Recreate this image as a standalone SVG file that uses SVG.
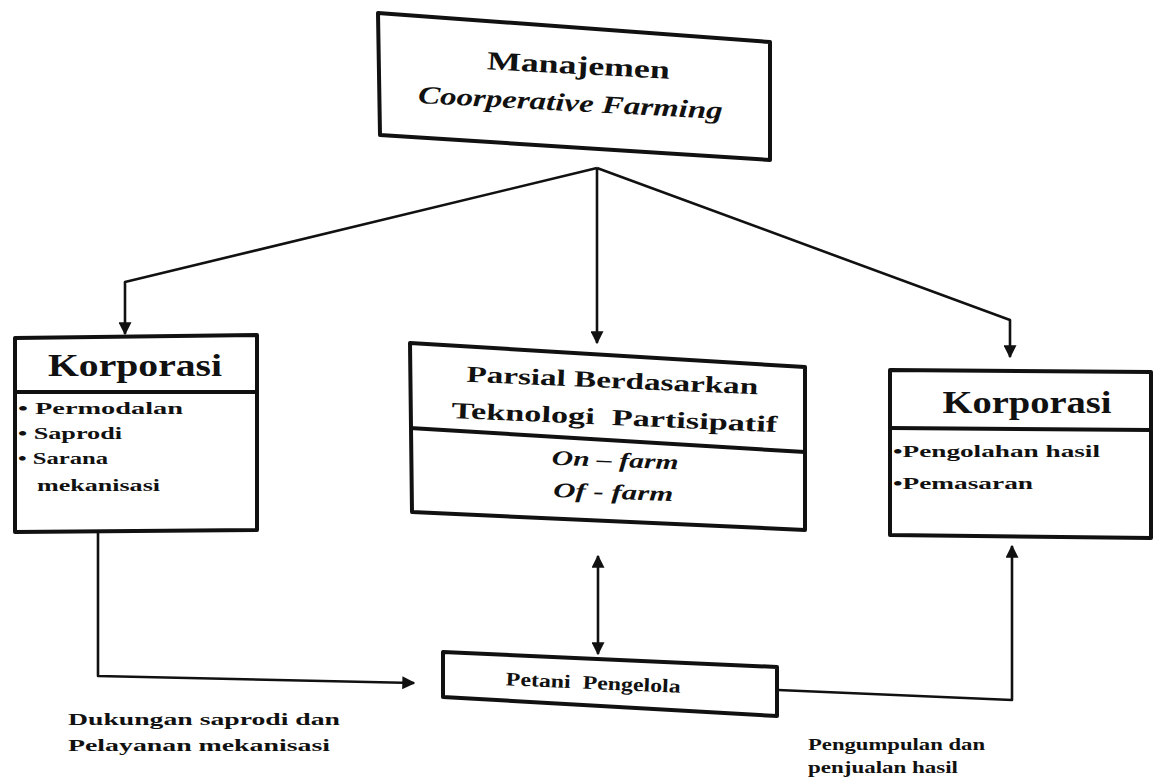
<svg xmlns="http://www.w3.org/2000/svg" width="1154" height="780" viewBox="0 0 1154 780">
<defs>
<marker id="ah" viewBox="0 0 10 10" refX="9" refY="5" markerWidth="5" markerHeight="5" orient="auto-start-reverse" markerUnits="strokeWidth">
<path d="M0,0 L10,5 L0,10 z" fill="#111"/>
</marker>
<style>
.box{fill:#fff;stroke:#111;stroke-width:4;stroke-linejoin:round}
.div{stroke:#111;stroke-width:4;fill:none}
.con{stroke:#111;stroke-width:2.6;fill:none;stroke-linejoin:round}
.t{font-family:"Liberation Serif",serif;font-weight:bold;fill:#111;white-space:pre}
.ti{font-family:"Liberation Serif",serif;font-weight:bold;font-style:italic;fill:#111}
.s{font-family:"Liberation Serif",serif;font-weight:bold;fill:#111;font-size:17px}
</style>
</defs>
<rect width="1154" height="780" fill="#fff"/>

<g id="connectors">
<path class="con" d="M597,168 L125,282 L125,334" marker-end="url(#ah)"/>
<path class="con" d="M597,168 L597,343" marker-end="url(#ah)"/>
<path class="con" d="M597,168 L1010,320 L1010,357" marker-end="url(#ah)"/>
<path class="con" d="M598,654 L598,556" marker-start="url(#ah)" marker-end="url(#ah)"/>
<path class="con" d="M98,533 L98,676 L414,683" marker-end="url(#ah)"/>
<path class="con" d="M778,690 L1012,700 L1012,546" marker-end="url(#ah)"/>
</g>

<g id="manajemen">
<polygon class="box" points="378,13 770,42 770,160 380,135"/>
<text class="t" font-size="26" x="578" y="74" text-anchor="middle" textLength="183" lengthAdjust="spacingAndGlyphs" transform="rotate(3 578 74)">Manajemen</text>
<text class="ti" font-size="25" x="570" y="111" text-anchor="middle" textLength="305" lengthAdjust="spacingAndGlyphs" transform="rotate(3 570 111)">Coorperative Farming</text>
</g>

<g id="korporasi-left">
<polygon class="box" points="15,338 257,335 257,530 15,532"/>
<line class="div" x1="15" y1="392" x2="257" y2="392"/>
<text class="t" font-size="32" x="135" y="376" text-anchor="middle" textLength="174" lengthAdjust="spacingAndGlyphs">Korporasi</text>
<text class="s" x="18" y="414" textLength="165" lengthAdjust="spacingAndGlyphs">• Permodalan</text>
<text class="s" x="18" y="439" textLength="104" lengthAdjust="spacingAndGlyphs">• Saprodi</text>
<text class="s" x="18" y="464" textLength="90" lengthAdjust="spacingAndGlyphs">• Sarana</text>
<text class="s" x="37" y="491" textLength="123" lengthAdjust="spacingAndGlyphs">mekanisasi</text>
</g>

<g id="parsial">
<polygon class="box" points="410,343 805,367 805,530 412,512"/>
<line class="div" x1="410" y1="428" x2="805" y2="452"/>
<text class="t" font-size="23" x="612" y="388" text-anchor="middle" textLength="292" lengthAdjust="spacingAndGlyphs" transform="rotate(2.5 612 388)">Parsial Berdasarkan</text>
<text class="t" font-size="23" x="614" y="425" text-anchor="middle" textLength="326" lengthAdjust="spacingAndGlyphs" transform="rotate(2.5 614 425)">Teknologi  Partisipatif</text>
<text class="ti" font-size="21" x="615" y="467" text-anchor="middle" textLength="127" lengthAdjust="spacingAndGlyphs" transform="rotate(2 615 467)">On – farm</text>
<text class="ti" font-size="21" x="613" y="499" text-anchor="middle" textLength="120" lengthAdjust="spacingAndGlyphs" transform="rotate(2 613 499)">Of - farm</text>
</g>

<g id="korporasi-right">
<polygon class="box" points="890,370 1151,372 1151,538 890,535"/>
<line class="div" x1="890" y1="428" x2="1151" y2="430"/>
<text class="t" font-size="32" x="1027" y="413" text-anchor="middle" textLength="169" lengthAdjust="spacingAndGlyphs">Korporasi</text>
<text class="s" x="893" y="457" textLength="207" lengthAdjust="spacingAndGlyphs">•Pengolahan hasil</text>
<text class="s" x="893" y="489" textLength="140" lengthAdjust="spacingAndGlyphs">•Pemasaran</text>
</g>

<g id="petani">
<polygon class="box" points="443,652 777,667 777,716 443,697"/>
<text class="t" font-size="19" x="593" y="689" text-anchor="middle" textLength="175" lengthAdjust="spacingAndGlyphs" transform="rotate(2.5 593 689)">Petani  Pengelola</text>
</g>

<g id="labels">
<text class="s" x="68" y="725" textLength="272" lengthAdjust="spacingAndGlyphs">Dukungan saprodi dan</text>
<text class="s" x="68" y="751" textLength="262" lengthAdjust="spacingAndGlyphs">Pelayanan mekanisasi</text>
<text class="s" x="808" y="750" textLength="177" lengthAdjust="spacingAndGlyphs">Pengumpulan dan</text>
<text class="s" x="808" y="773" textLength="150" lengthAdjust="spacingAndGlyphs">penjualan hasil</text>
</g>
</svg>
